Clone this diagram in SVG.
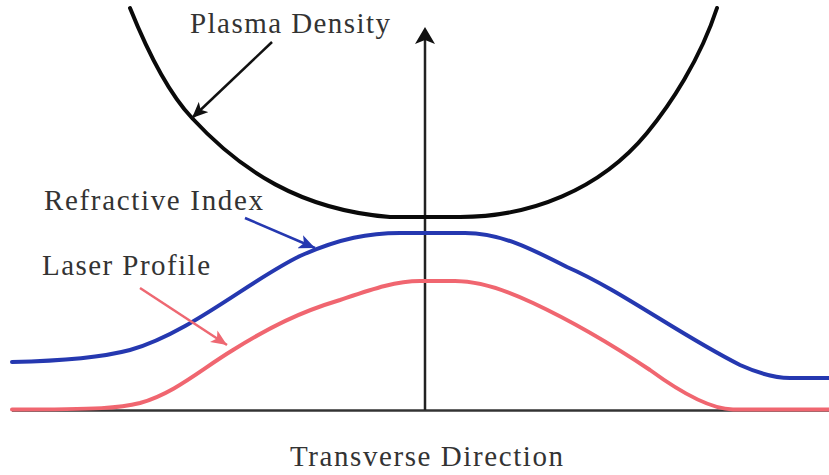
<svg xmlns="http://www.w3.org/2000/svg" width="829" height="475" viewBox="0 0 829 475">
<style>
  .lbl { font-family: "Liberation Serif", "Times New Roman", serif; font-size: 29px; fill: #333333; }
  .curve { fill: none; stroke-width: 4; stroke-linecap: round; stroke-linejoin: round; }
  .ptr { fill: none; stroke-width: 2.5; }
</style>
<defs>
  <marker id="ahBlack" markerUnits="userSpaceOnUse" markerWidth="18" markerHeight="14" refX="16" refY="7" orient="auto">
    <path d="M0,0 L16,7 L0,14 L4,7 Z" fill="#111111"/>
  </marker>
  <marker id="ahBlue" markerUnits="userSpaceOnUse" markerWidth="18" markerHeight="14" refX="16" refY="7" orient="auto">
    <path d="M0,0 L16,7 L0,14 L4,7 Z" fill="#2538b0"/>
  </marker>
  <marker id="ahRed" markerUnits="userSpaceOnUse" markerWidth="18" markerHeight="14" refX="16" refY="7" orient="auto">
    <path d="M0,0 L16,7 L0,14 L4,7 Z" fill="#ee6872"/>
  </marker>
</defs>
<rect width="829" height="475" fill="#ffffff"/>

<g id="axes">
  <line x1="12" y1="410.5" x2="829" y2="410.5" stroke="#333333" stroke-width="2.5"/>
  <line x1="425" y1="410" x2="425" y2="40" stroke="#222222" stroke-width="2.5"/>
  <polygon points="425,27 435,44 425,40 415,44" fill="#111111"/>
</g>

<g id="plasma-density">
  <path class="curve" stroke="#0a0a0a" d="M130,8 C155,70 175,100 192,118 C240,170 300,210 390,217 L460,217 C530,217 600,190 647,133 C670,105 700,60 717,8"/>
</g>

<g id="refractive-index">
  <path class="curve" stroke="#2538b0" d="M12,362 C60,361 100,358 130,350 C190,333 250,280 300,256 C340,238 370,233 400,233 L465,233 C500,233 530,248 567,267 C620,290 680,335 740,365 C760,374 775,378 790,378 L829,378"/>
</g>

<g id="laser-profile">
  <path class="curve" stroke="#f06670" d="M12,409.5 C100,409.5 120,408 140,403 C175,393 200,370 233,350 C270,327 300,312 340,300 C370,290 395,281 420,281 L455,281 C480,281 510,292 533,303 C580,325 620,350 650,370 C680,392 710,409 733,409.5 L829,409.5"/>
</g>

<g id="connectors">
  <line class="ptr" stroke="#111111" x1="272" y1="42" x2="192" y2="118" marker-end="url(#ahBlack)"/>
  <line class="ptr" stroke="#2538b0" x1="245" y1="218" x2="315" y2="248" marker-end="url(#ahBlue)"/>
  <line class="ptr" stroke="#ee6872" x1="140" y1="288" x2="227" y2="345" marker-end="url(#ahRed)"/>
</g>

<g id="labels">
  <text class="lbl" x="190" y="33" textLength="200" lengthAdjust="spacing">Plasma Density</text>
  <text class="lbl" x="44" y="210" textLength="219" lengthAdjust="spacing">Refractive Index</text>
  <text class="lbl" x="42" y="275" textLength="168" lengthAdjust="spacing">Laser Profile</text>
  <text class="lbl" x="290" y="466" textLength="273" lengthAdjust="spacing">Transverse Direction</text>
</g>
</svg>
